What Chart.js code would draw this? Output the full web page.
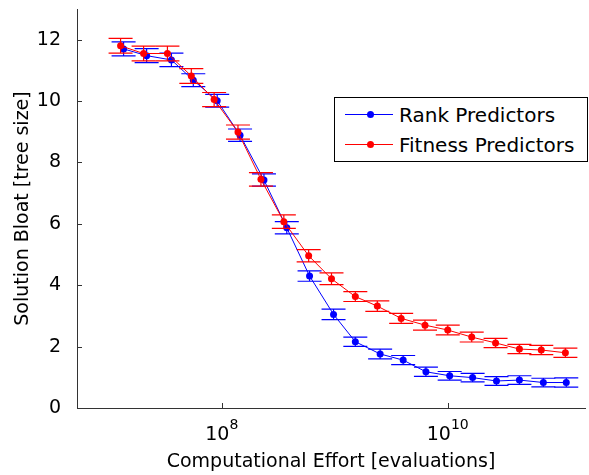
<!DOCTYPE html>
<html>
<head>
<meta charset="utf-8">
<script src="https://cdn.jsdelivr.net/npm/chart.js@4"></script>
<style>
  body { margin: 0; background: #fff; }
  #wrap { position: relative; width: 589px; height: 475px; }
  #legend {
    position: absolute; left: 334px; top: 97px; width: 252px; height: 63px;
    border: 1px solid #000; background: #fff;
    font-family: 'DejaVu Sans', sans-serif; font-size: 20px; color: #000;
  }
  .row { position: absolute; left: 0; width: 100%; height: 24px; }
  .row .ln { position: absolute; left: 10px; top: 11px; width: 48px; height: 0; border-top: 1px solid; }
  .row .dot { position: absolute; left: 32px; top: 8px; width: 7px; height: 7px; border-radius: 50%; }
  .row .txt { position: absolute; left: 64px; top: 0; line-height: 24px; white-space: nowrap; }
</style>
</head>
<body>
<div id="wrap">
  <canvas id="chart" width="589" height="475"></canvas>
  <div id="legend">
    <div class="row" style="top:5px"><div class="ln" style="border-color:#0000ff"></div><div class="dot" style="background:#0000ff"></div><div class="txt">Rank Predictors</div></div>
    <div class="row" style="top:35px"><div class="ln" style="border-color:#ff0000"></div><div class="dot" style="background:#ff0000"></div><div class="txt">Fitness Predictors</div></div>
  </div>
</div>
<script>
// computational effort (evaluations) of each sample
const rankEffort = [1.35e7, 2.16e7, 3.58e7, 5.59e7, 9.10e7, 1.45e8, 2.36e8, 3.76e8, 5.98e8, 9.75e8,
  1.52e9, 2.52e9, 4.03e9, 6.41e9, 1.04e10, 1.66e10, 2.70e10, 4.31e10, 7.02e10, 1.12e11];
const fitEffort = [1.27e7, 2.03e7, 3.30e7, 5.37e7, 8.55e7, 1.39e8, 2.22e8, 3.54e8, 5.87e8, 9.35e8,
  1.52e9, 2.38e9, 3.87e9, 6.29e9, 1.00e10, 1.63e10, 2.65e10, 4.31e10, 6.73e10, 1.10e11];

// solution bloat (tree size) and its error
const rankBloat = [11.70, 11.48, 11.34, 10.68, 10.01, 8.89, 7.43, 5.87, 4.30, 3.05,
  2.16, 1.76, 1.56, 1.18, 1.05, 0.99, 0.88, 0.91, 0.83, 0.83];
const rankErr = [0.23, 0.23, 0.22, 0.21, 0.21, 0.20, 0.20, 0.20, 0.17, 0.17,
  0.15, 0.16, 0.15, 0.15, 0.14, 0.14, 0.14, 0.14, 0.14, 0.15];
const fitBloat = [11.80, 11.55, 11.55, 10.82, 10.05, 8.99, 7.45, 6.07, 4.96, 4.21,
  3.63, 3.32, 2.92, 2.70, 2.54, 2.31, 2.12, 1.92, 1.89, 1.80];
const fitErr = [0.24, 0.24, 0.24, 0.24, 0.23, 0.23, 0.22, 0.22, 0.20, 0.19,
  0.16, 0.17, 0.16, 0.16, 0.16, 0.16, 0.15, 0.15, 0.15, 0.15];

const xTicks = [1e8, 1e10];
const yTicks = [0, 2, 4, 6, 8, 10, 12];

const FONT = "'DejaVu Sans', sans-serif";
const errors = [rankErr, fitErr];
const colors = ['#0000ff', '#ff0000'];

function toPoints(xs, ys) {
  return xs.map((x, i) => ({ x: x, y: ys[i] }));
}

// vertical error bars with wide caps, like matlab errorbar
const errorBars = {
  id: 'errorBars',
  afterDatasetDraw(chart, args) {
    const ds = chart.data.datasets[args.index];
    const err = errors[args.index];
    const xs = chart.scales.x, ys = chart.scales.y;
    const ctx = chart.ctx;
    ctx.save();
    ctx.strokeStyle = colors[args.index];
    ctx.lineWidth = 1.2;
    ds.data.forEach((p, i) => {
      const px = xs.getPixelForValue(p.x);
      const t = ys.getPixelForValue(p.y + err[i]);
      const b = ys.getPixelForValue(p.y - err[i]);
      ctx.beginPath();
      ctx.moveTo(px, t); ctx.lineTo(px, b);
      ctx.moveTo(px - 12, t); ctx.lineTo(px + 12, t);
      ctx.moveTo(px - 12, b); ctx.lineTo(px + 12, b);
      ctx.stroke();
    });
    ctx.restore();
  }
};

// inward tick marks and 10^n labels
const axisDecor = {
  id: 'axisDecor',
  afterDraw(chart) {
    const { ctx, chartArea } = chart;
    const xs = chart.scales.x, ys = chart.scales.y;
    ctx.save();
    ctx.strokeStyle = '#333';
    ctx.lineWidth = 1;
    ctx.beginPath();
    yTicks.forEach(v => {
      const py = Math.round(ys.getPixelForValue(v)) + 0.5;
      ctx.moveTo(chartArea.left, py); ctx.lineTo(chartArea.left + 5, py);
    });
    xTicks.forEach(v => {
      const px = Math.round(xs.getPixelForValue(v)) + 0.5;
      ctx.moveTo(px, chartArea.bottom); ctx.lineTo(px, chartArea.bottom - 5);
    });
    ctx.stroke();

    ctx.fillStyle = '#000';
    ctx.textBaseline = 'alphabetic';
    ctx.textAlign = 'left';
    xTicks.forEach(v => {
      const px = xs.getPixelForValue(v);
      const expo = String(Math.round(Math.log10(v)));
      ctx.font = '19px ' + FONT;
      const w1 = ctx.measureText('10').width;
      ctx.font = '14px ' + FONT;
      const w2 = ctx.measureText(expo).width;
      const x0 = px - (w1 + w2) / 2;
      ctx.font = '19px ' + FONT;
      ctx.fillText('10', x0, chartArea.bottom + 32);
      ctx.font = '14px ' + FONT;
      ctx.fillText(expo, x0 + w1, chartArea.bottom + 21);
    });
    ctx.restore();
  }
};

new Chart(document.getElementById('chart'), {
  type: 'line',
  data: {
    datasets: [
      {
        label: 'Rank Predictors',
        data: toPoints(rankEffort, rankBloat),
        borderColor: colors[0],
        backgroundColor: colors[0],
        borderWidth: 1,
        pointRadius: 3.5,
        pointBorderWidth: 0,
        tension: 0,
        order: 1
      },
      {
        label: 'Fitness Predictors',
        data: toPoints(fitEffort, fitBloat),
        borderColor: colors[1],
        backgroundColor: colors[1],
        borderWidth: 1,
        pointRadius: 3.5,
        pointBorderWidth: 0,
        tension: 0,
        order: 0
      }
    ]
  },
  options: {
    responsive: false,
    animation: false,
    layout: { padding: { top: 9, right: 1, left: 0, bottom: 0 } },
    plugins: {
      legend: { display: false },
      tooltip: { enabled: false }
    },
    scales: {
      x: {
        type: 'logarithmic',
        min: Math.pow(10, 6.718),
        max: Math.pow(10, 11.215),
        afterBuildTicks: s => { s.ticks = xTicks.map(v => ({ value: v })); },
        afterFit: s => { s.height = 67; s.paddingLeft = 0; s.paddingRight = 0; },
        grid: { display: false },
        border: { display: true, color: '#333', width: 1 },
        ticks: { display: false },
        title: {
          display: true,
          text: 'Computational Effort [evaluations]',
          color: '#000',
          font: { family: FONT, size: 19 },
          padding: { top: 0, bottom: 2 }
        }
      },
      y: {
        min: 0,
        max: 13,
        afterBuildTicks: s => { s.ticks = yTicks.map(v => ({ value: v })); },
        afterFit: s => { s.width = 77; s.paddingTop = 0; s.paddingBottom = 0; },
        grid: { display: false },
        border: { display: true, color: '#333', width: 1 },
        ticks: {
          color: '#000',
          font: { family: FONT, size: 19 },
          padding: 8
        },
        title: {
          display: true,
          text: 'Solution Bloat [tree size]',
          color: '#000',
          font: { family: FONT, size: 19 },
          padding: { top: 12, bottom: 0 }
        }
      }
    }
  },
  plugins: [errorBars, axisDecor]
});
</script>
</body>
</html>
